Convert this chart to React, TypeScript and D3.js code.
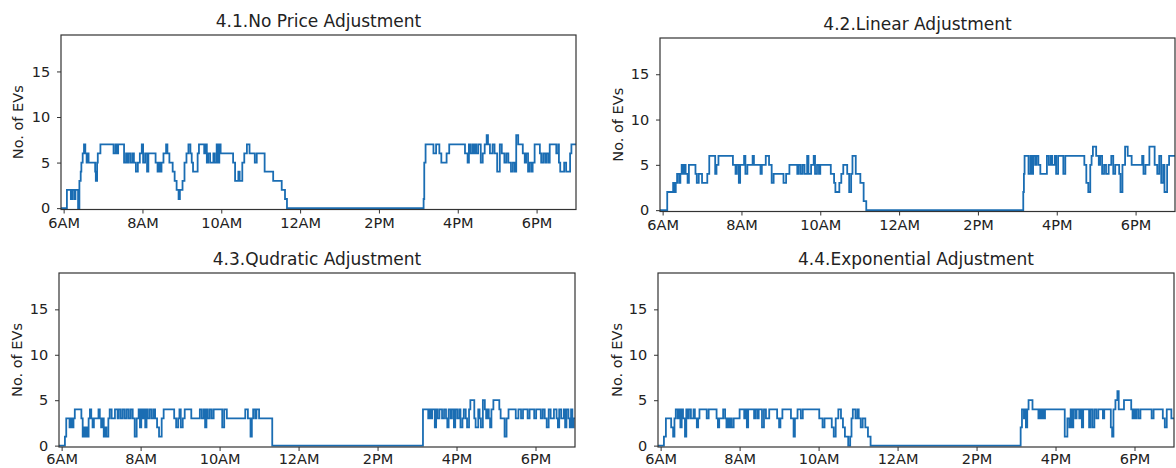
import React, { useRef, useEffect } from 'react';
import * as d3 from 'd3';

// time is minutes after 6AM, value is number of EVs (step changes)
const tickMinutes = [0, 120, 240, 360, 480, 600, 720];
const tickLabels = ['6AM', '8AM', '10AM', '12AM', '2PM', '4PM', '6PM'];
const yTicks = [0, 5, 10, 15];
const titles = ['4.1.No Price Adjustment', '4.2.Linear Adjustment', '4.3.Qudratic Adjustment', '4.4.Exponential Adjustment'];

const noPriceSteps: [number, number][] = [
  [-4, 0], [5, 2], [11, 1], [13, 2], [16, 1], [18, 2], [22, 0], [24, 3], [26, 4], [27, 5], [29, 6], [31, 7], [33, 6], [35, 5], [36, 6], [38, 5],
  [48, 4], [49, 3], [51, 5], [52, 6], [56, 7], [76, 6], [79, 7], [81, 6], [83, 7], [92, 5], [95, 6], [97, 5], [99, 6], [102, 5], [105, 6], [107, 5],
  [110, 4], [113, 5], [116, 6], [119, 7], [121, 5], [124, 6], [127, 4], [129, 6], [140, 5], [143, 4], [145, 5], [147, 4], [149, 5], [152, 6],
  [156, 7], [158, 6], [161, 5], [166, 4], [169, 3], [172, 2], [175, 1], [177, 2], [181, 3], [184, 5], [187, 6], [190, 7], [193, 6], [195, 5],
  [197, 4], [204, 6], [206, 7], [214, 6], [216, 7], [218, 5], [220, 6], [223, 5], [228, 6], [230, 5], [233, 7], [235, 5], [237, 7], [239, 6],
  [258, 5], [261, 3], [266, 4], [268, 3], [272, 5], [275, 6], [279, 7], [283, 6], [291, 5], [294, 6], [306, 4], [319, 3], [332, 2], [337, 1], [340, 0],
  [548, 1], [549, 5], [551, 7], [563, 6], [567, 7], [572, 6], [575, 5], [583, 6], [587, 7], [611, 6], [615, 5], [617, 7], [619, 6], [622, 7],
  [624, 6], [626, 7], [628, 6], [631, 7], [635, 5], [638, 6], [641, 7], [644, 8], [646, 7], [649, 6], [653, 7], [656, 6], [660, 4], [664, 7],
  [667, 6], [671, 5], [674, 6], [677, 5], [681, 4], [684, 5], [687, 4], [689, 8], [692, 7], [699, 6], [702, 5], [704, 6], [707, 4], [709, 5],
  [712, 4], [714, 5], [717, 7], [725, 6], [727, 5], [730, 6], [733, 5], [735, 6], [738, 5], [740, 7], [750, 6], [753, 7], [754, 5], [756, 4],
  [762, 5], [765, 4], [771, 6], [773, 7],
];

const linearSteps: [number, number][] = [
  [-4, 0], [7, 2], [16, 3], [18, 2], [20, 3], [22, 4], [25, 3], [27, 4], [29, 5], [31, 4], [33, 5], [35, 4], [38, 3], [40, 5], [50, 4], [52, 3],
  [55, 4], [60, 3], [68, 4], [71, 6], [80, 4], [82, 5], [85, 6], [107, 5], [111, 4], [113, 5], [116, 3], [118, 5], [124, 6], [126, 4], [129, 5],
  [137, 6], [139, 5], [149, 4], [151, 5], [157, 6], [162, 5], [166, 3], [169, 4], [184, 3], [188, 4], [193, 5], [205, 4], [207, 5], [210, 4],
  [213, 5], [216, 4], [220, 6], [222, 4], [226, 5], [230, 6], [232, 4], [235, 5], [238, 4], [240, 5], [256, 4], [261, 3], [263, 2], [269, 3],
  [272, 4], [275, 5], [281, 4], [284, 2], [287, 4], [289, 6], [294, 4], [301, 3], [306, 1], [310, 0],
  [549, 2], [550, 4], [551, 6], [557, 4], [560, 6], [562, 4], [564, 6], [567, 5], [569, 6], [572, 5], [575, 4], [585, 6], [588, 5], [591, 6],
  [593, 5], [597, 6], [599, 4], [602, 6], [610, 4], [613, 6], [642, 5], [645, 3], [648, 2], [651, 5], [653, 6], [655, 7], [660, 6], [664, 5],
  [666, 6], [669, 4], [672, 5], [675, 4], [679, 5], [683, 6], [686, 4], [689, 5], [695, 4], [697, 2], [700, 5], [704, 7], [708, 6], [714, 5],
  [730, 6], [732, 4], [735, 5], [741, 7], [749, 5], [753, 4], [756, 6], [759, 3], [762, 5], [764, 2], [768, 5], [771, 6],
];

const quadraticSteps: [number, number][] = [
  [-4, 0], [5, 1], [7, 3], [12, 2], [14, 3], [16, 2], [18, 3], [20, 4], [30, 3], [32, 1], [34, 2], [36, 1], [38, 2], [40, 1], [41, 3], [43, 4],
  [45, 3], [47, 2], [49, 3], [56, 4], [58, 3], [60, 2], [62, 3], [64, 1], [66, 2], [68, 1], [71, 3], [73, 4], [76, 3], [81, 4], [85, 3], [87, 4],
  [90, 3], [93, 4], [96, 3], [99, 4], [102, 3], [105, 4], [108, 3], [111, 1], [114, 3], [117, 4], [119, 2], [121, 4], [123, 3], [125, 4], [127, 2],
  [129, 4], [131, 3], [134, 4], [137, 3], [140, 4], [142, 3], [145, 2], [148, 1], [152, 3], [155, 4], [171, 3], [174, 2], [177, 3], [179, 4],
  [181, 2], [184, 3], [187, 4], [197, 3], [210, 4], [213, 3], [216, 4], [218, 2], [220, 4], [222, 3], [225, 4], [228, 3], [231, 4], [244, 2],
  [247, 4], [251, 3], [279, 4], [283, 3], [287, 1], [289, 3], [291, 4], [294, 3], [296, 4], [300, 3], [320, 0],
  [549, 4], [557, 3], [559, 4], [561, 3], [563, 4], [567, 2], [569, 4], [571, 3], [574, 4], [578, 3], [581, 4], [584, 3], [586, 2], [588, 4],
  [591, 3], [593, 4], [596, 2], [598, 4], [601, 3], [604, 4], [606, 2], [609, 3], [611, 4], [614, 3], [616, 2], [619, 4], [621, 5], [627, 3],
  [629, 2], [633, 4], [635, 3], [637, 2], [640, 5], [643, 4], [645, 3], [647, 4], [649, 3], [651, 2], [653, 4], [656, 5], [665, 4], [667, 3],
  [673, 1], [676, 3], [679, 4], [690, 3], [694, 4], [698, 3], [701, 4], [708, 3], [711, 4], [718, 3], [721, 4], [728, 3], [731, 4], [734, 3],
  [737, 2], [740, 4], [743, 3], [748, 4], [752, 3], [754, 2], [756, 4], [759, 3], [763, 4], [765, 2], [767, 4], [770, 3], [772, 2], [774, 4],
  [776, 2], [778, 3],
];

const exponentialSteps: [number, number][] = [
  [-4, 0], [5, 1], [8, 3], [16, 2], [19, 1], [21, 3], [23, 4], [26, 3], [28, 4], [30, 2], [32, 4], [34, 3], [37, 1], [39, 4], [41, 3], [43, 4],
  [46, 3], [50, 4], [52, 3], [55, 2], [57, 3], [59, 4], [70, 3], [73, 4], [85, 3], [87, 2], [89, 3], [95, 4], [98, 3], [100, 2], [102, 3],
  [104, 2], [106, 3], [108, 2], [111, 3], [120, 4], [127, 3], [129, 4], [131, 2], [133, 4], [142, 3], [144, 4], [147, 3], [149, 4], [154, 2],
  [157, 4], [160, 3], [165, 4], [177, 3], [180, 2], [182, 3], [185, 4], [198, 3], [202, 1], [204, 3], [208, 4], [213, 3], [216, 4], [241, 3],
  [246, 2], [249, 3], [260, 2], [263, 1], [266, 3], [270, 4], [274, 3], [277, 2], [280, 1], [285, 0], [288, 1], [290, 3], [292, 4], [296, 3],
  [299, 4], [301, 3], [304, 2], [307, 3], [311, 2], [315, 1], [319, 0],
  [547, 2], [549, 4], [552, 3], [553, 4], [555, 2], [557, 4], [559, 5], [565, 4], [574, 3], [576, 4], [578, 3], [580, 4], [582, 3], [584, 4],
  [614, 1], [618, 3], [621, 2], [623, 4], [625, 2], [627, 4], [630, 3], [632, 4], [636, 3], [638, 4], [640, 2], [642, 4], [651, 2], [653, 4],
  [656, 2], [659, 4], [662, 3], [665, 4], [672, 3], [674, 4], [684, 2], [686, 1], [688, 4], [691, 5], [694, 6], [696, 4], [704, 5], [715, 4],
  [717, 3], [719, 4], [721, 3], [723, 4], [726, 3], [729, 4], [746, 3], [749, 4], [763, 3], [766, 2], [769, 4], [776, 3],
];

const seriesList = [noPriceSteps, linearSteps, quadraticSteps, exponentialSteps];

const App = () => {
  const chartRef = useRef<SVGSVGElement>(null);

  useEffect(() => {
    const svg = d3.select(chartRef.current);
    svg.selectAll('*').remove();

    const font = '"DejaVu Sans", sans-serif';
    const color = '#1a6db3';
    const tickFont = 14.5;

    // panel boxes in page pixels; xPad = tick label padding below the axis
    const boxes = [
      { left: 61, top: 35, right: 576, bottom: 209.5, labelX: 23, xPad: 4.7 },
      { left: 660, top: 38, right: 1175, bottom: 211.5, labelX: 622.5, xPad: 4.7 },
      { left: 59, top: 273, right: 575, bottom: 447, labelX: 22, xPad: 2.5 },
      { left: 658, top: 273, right: 1174, bottom: 447, labelX: 621.5, xPad: 2.5 },
    ];

    boxes.forEach((b, i) => {
      const steps = seriesList[i];
      const x = d3.scaleLinear().domain([-4, 780]).range([b.left, b.right]);
      const y = d3.scaleLinear().domain([-0.15, 19]).range([b.bottom, b.top]);

      const g = svg.append('g');
      const clipId = `clip-${i}`;
      g.append('clipPath').attr('id', clipId)
        .append('rect')
        .attr('x', b.left).attr('y', b.top - 2)
        .attr('width', b.right - b.left).attr('height', b.bottom - b.top + 2);

      // step line, held to the end of the day
      const pts: [number, number][] = [...steps, [780, steps[steps.length - 1][1]]];
      const line = d3.line<[number, number]>()
        .x(d => x(d[0]))
        .y(d => y(d[1]))
        .curve(d3.curveStepAfter);

      g.append('path')
        .datum(pts)
        .attr('d', line)
        .attr('fill', 'none')
        .attr('stroke', color)
        .attr('stroke-width', 1.8)
        .attr('clip-path', `url(#${clipId})`);

      // frame
      g.append('rect')
        .attr('x', b.left).attr('y', b.top)
        .attr('width', b.right - b.left).attr('height', b.bottom - b.top)
        .attr('fill', 'none')
        .attr('stroke', '#333')
        .attr('stroke-width', 1.2);

      const xAxis = g.append('g')
        .attr('transform', `translate(0,${b.bottom})`)
        .call(d3.axisBottom(x).tickValues(tickMinutes).tickFormat((d, k) => tickLabels[k]).tickSize(4).tickPadding(b.xPad));
      const yAxis = g.append('g')
        .attr('transform', `translate(${b.left},0)`)
        .call(d3.axisLeft(y).tickValues(yTicks).tickSize(4).tickPadding(6.7));

      [xAxis, yAxis].forEach(ax => {
        ax.select('.domain').remove();
        ax.attr('font-family', font).attr('font-size', tickFont);
        ax.selectAll('line').attr('stroke', '#333').attr('stroke-width', 1);
        ax.selectAll('text').attr('fill', '#222');
      });

      g.append('text')
        .attr('x', (b.left + b.right) / 2)
        .attr('y', b.top - 8.5)
        .attr('text-anchor', 'middle')
        .attr('font-family', font)
        .attr('font-size', 17)
        .attr('fill', '#222')
        .text(titles[i]);

      g.append('text')
        .attr('transform', `translate(${b.labelX},${(b.top + b.bottom) / 2}) rotate(-90)`)
        .attr('text-anchor', 'middle')
        .attr('font-family', font)
        .attr('font-size', tickFont)
        .attr('fill', '#222')
        .text('No. of EVs');
    });
  }, []);

  return (
    <svg ref={chartRef} width={1176} height={468} style={{ position: 'absolute', left: 0, top: 0, background: '#fff' }}></svg>
  );
};

export default App;
